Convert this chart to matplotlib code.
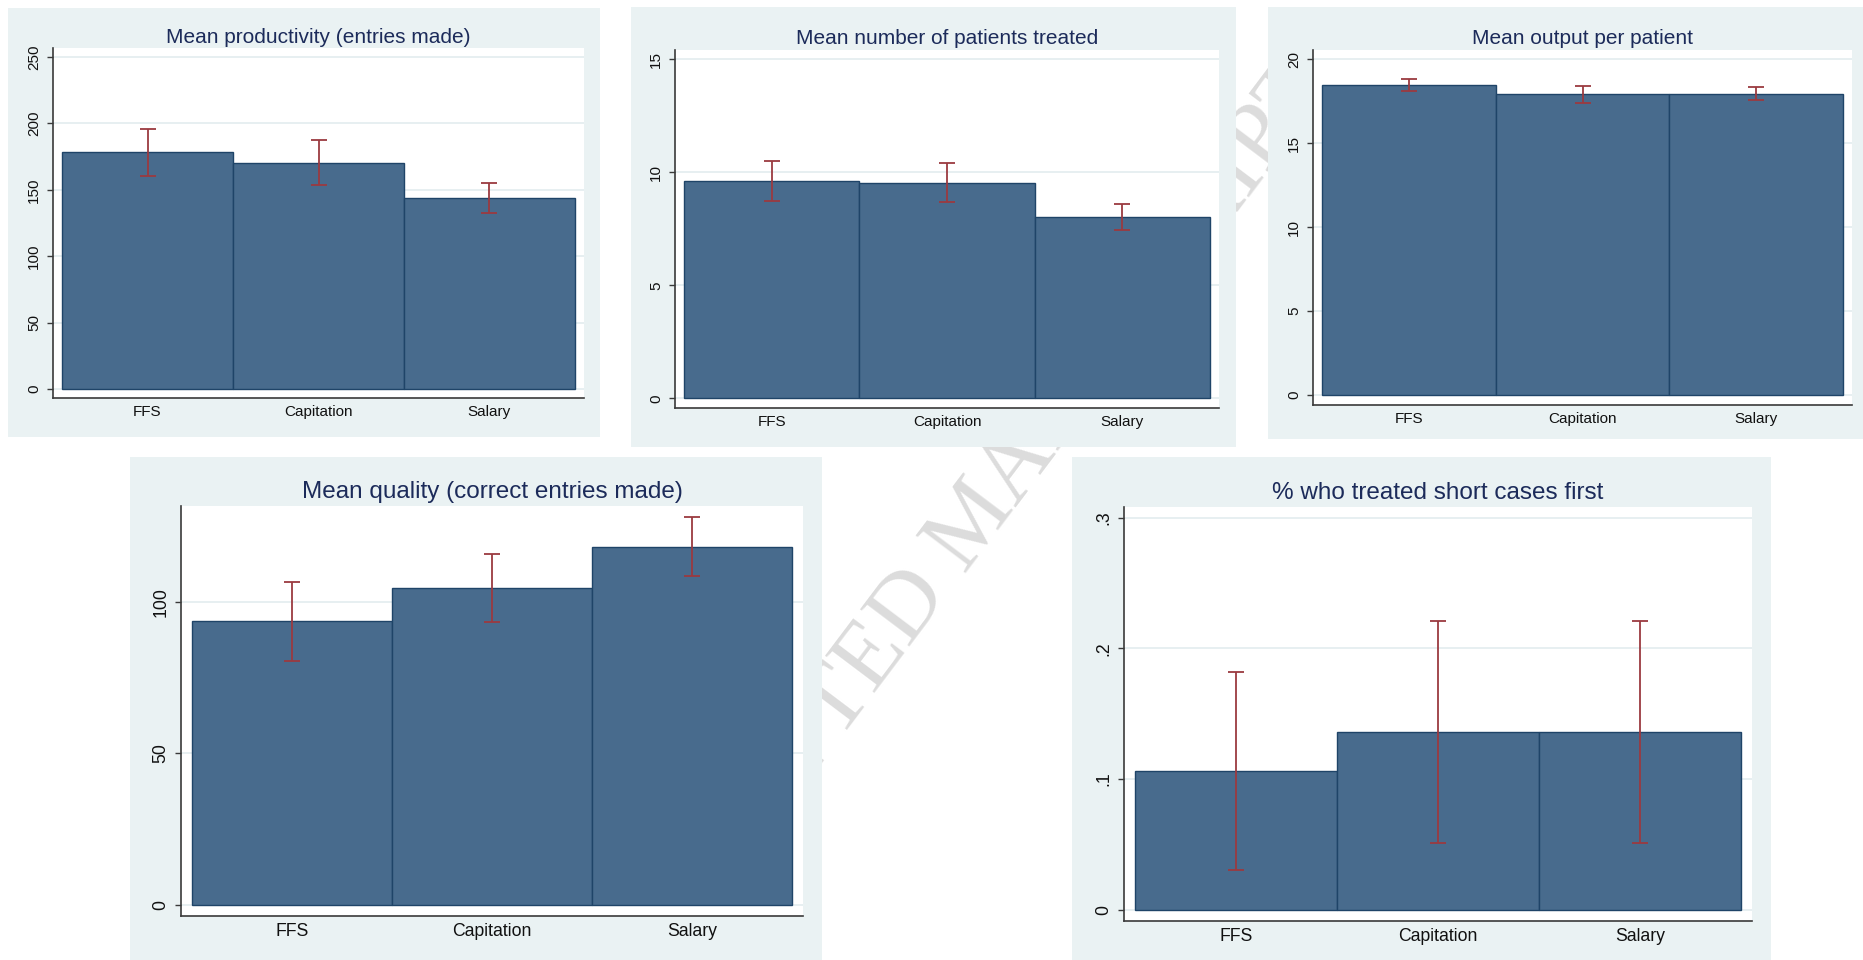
import math
import matplotlib
matplotlib.use("Agg")
import matplotlib.pyplot as plt
from matplotlib.patches import Rectangle
from matplotlib.textpath import TextPath
from matplotlib.font_manager import FontProperties

# Canvas size in pixels (dpi 100)
W, H = 1863, 960

plt.rcParams['font.family'] = ['Liberation Sans', 'DejaVu Sans']

# Data
groups = ['FFS', 'Capitation', 'Salary']

prod_mean = [178.2, 170.2, 143.6]
prod_lo = [160.4, 153.4, 132.5]
prod_hi = [196.0, 187.3, 155.3]

patients_mean = [9.60, 9.54, 8.01]
patients_lo = [8.73, 8.67, 7.43]
patients_hi = [10.50, 10.41, 8.58]

output_mean = [18.43, 17.90, 17.93]
output_lo = [18.11, 17.40, 17.58]
output_hi = [18.81, 18.39, 18.31]

quality_mean = [93.6, 104.7, 118.3]
quality_lo = [80.6, 93.5, 108.6]
quality_hi = [106.5, 115.8, 128.0]

short_mean = [0.106, 0.136, 0.136]
short_lo = [0.030, 0.051, 0.051]
short_hi = [0.182, 0.221, 0.221]

# Colours (Stata s2color look)
BG = '#EAF2F3'
GRID = '#E3ECEF'
BAR = '#486B8D'
BAR_EDGE = '#1F4468'
ERR = '#9B3A40'
TITLE = '#1C2B5A'
AXIS = '#3A3A3A'

fig = plt.figure(figsize=(W / 100, H / 100), dpi=100)
fig.patch.set_facecolor('white')

# Watermark behind the panels: place it so the centre of the "M" sits at (966, 523) px
wm_text = 'ACCEPTED MANUSCRIPT'
wm_em = 95  # em size in pixels
wm_angle = 53
fp = FontProperties(family='Liberation Serif')
upto_m = TextPath((0, 0), 'ACCEPTED M', size=wm_em, prop=fp).get_extents()
m_box = TextPath((0, 0), 'M', size=wm_em, prop=fp).get_extents()
mx = upto_m.x1 - m_box.width / 2
my = m_box.y1 / 2
c, s = math.cos(math.radians(wm_angle)), math.sin(math.radians(wm_angle))
ox = 966 - (mx * c - my * s)
oy = (H - 523) - (mx * s + my * c)
fig.text(ox / W, oy / H, wm_text, rotation=wm_angle, rotation_mode='anchor',
         ha='left', va='baseline', fontsize=wm_em * 72 / 100,
         family='Liberation Serif', color='#DCDCDC', zorder=0)


def panel(bg_box, plot_box, title, baseline_y, title_size, tick_size,
          means, lo, hi, ylim, yticks, ylabels):
    # light background of the graph region
    bx0, by0, bx1, by1 = bg_box
    fig.patches.append(Rectangle((bx0 / W, 1 - by1 / H), (bx1 - bx0) / W, (by1 - by0) / H,
                                 transform=fig.transFigure, facecolor=BG,
                                 edgecolor='none', zorder=0.5))
    x0, y0, x1, y1 = plot_box
    ax = fig.add_axes([x0 / W, 1 - y1 / H, (x1 - x0) / W, (y1 - y0) / H])
    ax.set_zorder(1)
    ax.set_facecolor('white')

    xs = range(len(groups))
    ax.bar(xs, means, width=1.0, color=BAR, edgecolor=BAR_EDGE, linewidth=1.0, zorder=2)
    err = [[m - l for m, l in zip(means, lo)], [h - m for m, h in zip(means, hi)]]
    ax.errorbar(xs, means, yerr=err, fmt='none', ecolor=ERR, elinewidth=1.3,
                capsize=6, capthick=1.3, zorder=3)

    ax.set_xlim(-0.553, 2.553)
    ax.set_ylim(*ylim)
    ax.set_xticks(list(xs))
    ax.set_xticklabels(groups, fontsize=tick_size, color='#111111')
    ax.set_yticks(yticks)
    ax.set_yticklabels(ylabels, rotation=90, va='center', fontsize=tick_size, color='#111111')
    ax.tick_params(axis='x', length=0, pad=5)
    ax.tick_params(axis='y', length=4.5, width=1.0, color=AXIS, pad=4)
    ax.grid(axis='y', color=GRID, linewidth=1.2, zorder=0)
    ax.set_axisbelow(True)

    for side in ['top', 'right']:
        ax.spines[side].set_visible(False)
    for side in ['left', 'bottom']:
        ax.spines[side].set_color(AXIS)
        ax.spines[side].set_linewidth(1.2)

    fig.text(((x0 + x1) / 2) / W, 1 - baseline_y / H, title, ha='center', va='baseline',
             fontsize=title_size, color=TITLE, zorder=2)
    return ax


# Top row
panel((8, 8, 600, 437), (53, 48, 584, 398), 'Mean productivity (entries made)', 43, 15, 11,
      prod_mean, prod_lo, prod_hi, (-6.8, 256.8),
      [0, 50, 100, 150, 200, 250], ['0', '50', '100', '150', '200', '250'])

panel((631, 7, 1236, 447), (675, 50, 1219, 408), 'Mean number of patients treated', 44, 15, 11,
      patients_mean, patients_lo, patients_hi, (-0.43, 15.41),
      [0, 5, 10, 15], ['0', '5', '10', '15'])

panel((1268, 7, 1863, 439), (1313, 50, 1852, 405), 'Mean output per patient', 44, 15, 11,
      output_mean, output_lo, output_hi, (-0.595, 20.54),
      [0, 5, 10, 15, 20], ['0', '5', '10', '15', '20'])

# Bottom row
panel((130, 457, 822, 960), (181, 506, 803, 916), 'Mean quality (correct entries made)', 498, 17.5, 12.7,
      quality_mean, quality_lo, quality_hi, (-3.73, 131.7),
      [0, 50, 100], ['0', '50', '100'])

panel((1072, 457, 1771, 960), (1124, 507, 1752, 921), '% who treated short cases first', 499, 17.5, 12.7,
      short_mean, short_lo, short_hi, (-0.0087, 0.3082),
      [0, 0.1, 0.2, 0.3], ['0', '.1', '.2', '.3'])

fig.savefig('out.png', dpi=100)
